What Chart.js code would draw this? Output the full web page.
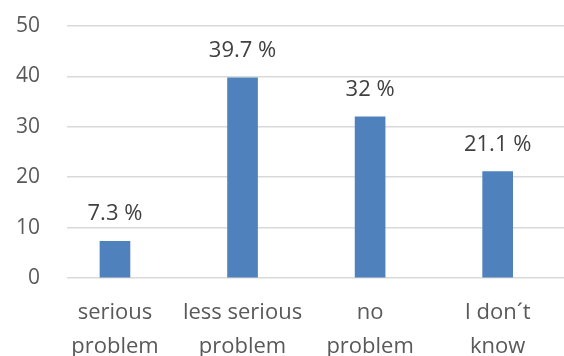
<!DOCTYPE html>
<html>
<head>
<meta charset="utf-8">
<script src="https://cdn.jsdelivr.net/npm/chart.js@4"></script>
<style>
  html, body { margin: 0; padding: 0; background: #fff; }
  #wrap { width: 564px; height: 356px; }
</style>
</head>
<body>
<div id="wrap"><canvas id="chart"></canvas></div>
<script>
// chart data
const categories = [['serious', 'problem'], ['less serious', 'problem'], ['no', 'problem'], ['I don\u00b4t', 'know']];
const shares = [7.3, 39.7, 32, 21.1];
const shareLabels = ['7.3 %', '39.7 %', '32 %', '21.1 %'];
const yTicks = [0, 10, 20, 30, 40, 50];

const FONT = '"Open Sans", sans-serif';

// labels above the bars
const barLabels = {
  id: 'barLabels',
  afterDatasetsDraw(chart) {
    const ctx = chart.ctx;
    const meta = chart.getDatasetMeta(0);
    ctx.save();
    ctx.font = '22px ' + FONT;
    ctx.fillStyle = '#404040';
    ctx.textAlign = 'center';
    ctx.textBaseline = 'middle';
    meta.data.forEach((bar, i) => {
      ctx.fillText(shareLabels[i], bar.x, bar.y - 27);
    });
    ctx.restore();
  }
};

new Chart(document.getElementById('chart'), {
  type: 'bar',
  data: {
    datasets: [{
      data: shares.map((v, i) => ({ x: i, y: v })),
      backgroundColor: '#4f81bd',
      borderWidth: 0,
      barThickness: 30
    }]
  },
  options: {
    responsive: true,
    maintainAspectRatio: false,
    animation: false,
    layout: { padding: { top: 26, right: 0, bottom: 0, left: 0 } },
    plugins: { legend: { display: false }, tooltip: { enabled: false } },
    scales: {
      x: {
        type: 'linear',
        offset: false,
        min: -0.376,
        max: 3.52,
        grid: { display: false, offset: false },
        border: { display: false },
        afterBuildTicks: s => { s.ticks = categories.map((c, i) => ({ value: i })); },
        afterFit: s => { s.height = 78; },
        ticks: {
          autoSkip: false,
          maxRotation: 0,
          padding: 10,
          color: '#595959',
          font: { family: FONT, size: 22, lineHeight: 1.55 },
          callback: v => categories[v]
        }
      },
      y: {
        min: 0,
        max: 50,
        afterBuildTicks: s => { s.ticks = yTicks.map(v => ({ value: v })); },
        afterFit: s => { s.width = 67; },
        grid: { color: '#d9d9d9', lineWidth: 1.5, drawTicks: true, tickLength: 27, tickColor: 'rgba(0,0,0,0)' },
        border: { display: false },
        ticks: {
          padding: 0,
          color: '#595959',
          font: { family: FONT, size: 21 }
        }
      }
    }
  },
  plugins: [barLabels]
});
</script>
</body>
</html>
